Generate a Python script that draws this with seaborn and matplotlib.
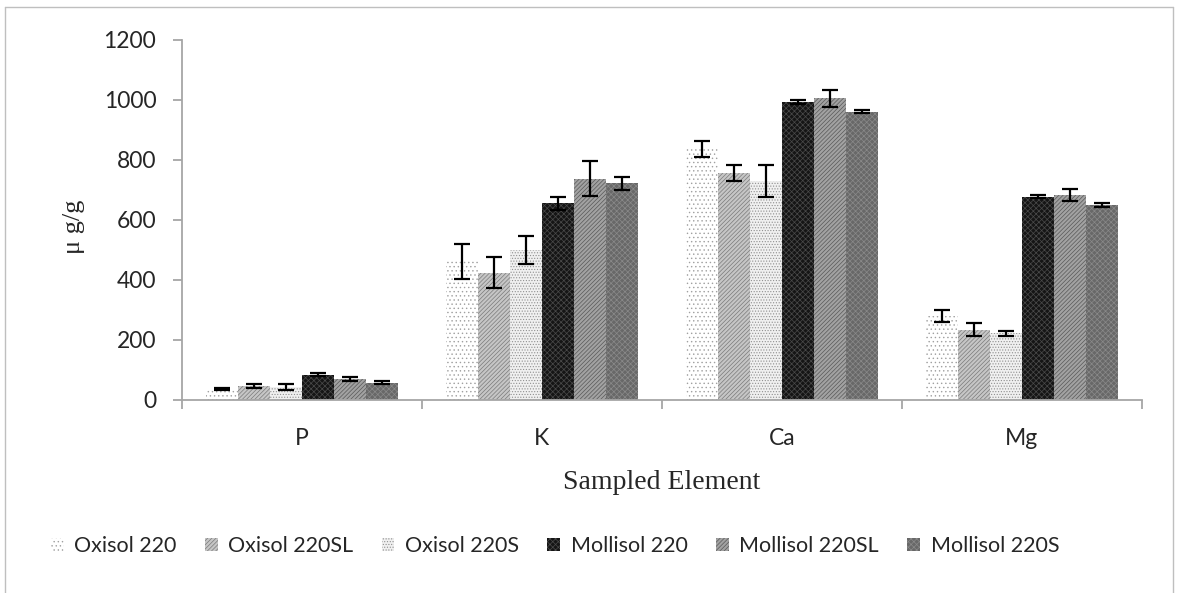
import matplotlib
matplotlib.use("Agg")
import matplotlib.pyplot as plt
import seaborn as sns
import pandas as pd
from matplotlib.patches import Rectangle
from matplotlib.lines import Line2D

# Element concentrations (µg/g) with standard errors
elements = ["P", "K", "Ca", "Mg"]
soils = ["Oxisol 220", "Oxisol 220SL", "Oxisol 220S",
         "Mollisol 220", "Mollisol 220SL", "Mollisol 220S"]

oxisol_220 = [38, 462, 837, 280]
oxisol_220sl = [46, 425, 757, 235]
oxisol_220s = [45, 500, 729, 222]
mollisol_220 = [85, 655, 994, 678]
mollisol_220sl = [70, 737, 1005, 683]
mollisol_220s = [58, 722, 961, 650]

oxisol_220_err = [3, 58, 27, 20]
oxisol_220sl_err = [7, 52, 26, 21]
oxisol_220s_err = [10, 45, 54, 8]
mollisol_220_err = [5, 22, 6, 6]
mollisol_220sl_err = [8, 58, 28, 20]
mollisol_220s_err = [5, 22, 6, 8]

series = [oxisol_220, oxisol_220sl, oxisol_220s,
          mollisol_220, mollisol_220sl, mollisol_220s]
errors = [oxisol_220_err, oxisol_220sl_err, oxisol_220s_err,
          mollisol_220_err, mollisol_220sl_err, mollisol_220s_err]

rows = []
for soil, vals, errs in zip(soils, series, errors):
    for el, v, e in zip(elements, vals, errs):
        rows.append({"element": el, "soil": soil, "value": v, "err": e})
df = pd.DataFrame(rows)

# fill styles: (face colour, hatch, hatch colour)
styles = [
    ("#ffffff", "....", "#a0a0a0"),
    ("#c6c6c6", "////////", "#7a7a7a"),
    ("#f0f0f0", "......", "#909090"),
    ("#151515", "xxxxxx", "#4a4a4a"),
    ("#a2a2a2", "////////", "#585858"),
    ("#686868", "xxxxxx", "#8a8a8a"),
]

sns.set_style("white")
plt.rcParams["font.family"] = ["Lato", "DejaVu Sans"]
plt.rcParams["hatch.linewidth"] = 0.5

fig = plt.figure(figsize=(11.79, 5.93), dpi=100)
ax = fig.add_axes([182 / 1179, 1 - 400 / 593, 960 / 1179, 360 / 593])

sns.barplot(data=df, x="element", y="value", hue="soil", order=elements,
            hue_order=soils, palette=[s[0] for s in styles], errorbar=None,
            width=0.8, gap=0, saturation=1, legend=False, ax=ax)

for cont, (fc, hatch, hc), soil in zip(ax.containers, styles, soils):
    sub = df[df["soil"] == soil].set_index("element").loc[elements]
    xs, ys = [], []
    for patch in cont.patches:
        patch.set_facecolor(fc)
        patch.set_hatch(hatch)
        patch.set_edgecolor(hc)
        patch.set_linewidth(0)
        xs.append(patch.get_x() + patch.get_width() / 2)
        ys.append(patch.get_height())
    ax.errorbar(xs, ys, yerr=sub["err"].values, fmt="none", ecolor="black",
                elinewidth=1.6, capsize=5.5, capthick=1.6, zorder=5)

ax.set_ylim(0, 1200)
ax.set_yticks(range(0, 1201, 200))
ax.set_xlim(-0.5, 3.5)

for side in ["top", "right"]:
    ax.spines[side].set_visible(False)
for side in ["left", "bottom"]:
    ax.spines[side].set_color("#a6a6a6")
    ax.spines[side].set_linewidth(1.3)

ax.tick_params(axis="y", which="major", direction="out", length=6.5, width=1.3,
               color="#a6a6a6", labelsize=16.5, pad=12, left=True)
ax.set_xticks([-0.5, 0.5, 1.5, 2.5, 3.5], minor=True)
ax.tick_params(axis="x", which="minor", direction="out", length=6.5, width=1.3,
               color="#a6a6a6", bottom=True)
ax.tick_params(axis="x", which="major", length=0, labelsize=16.5, pad=20)

ax.set_xlabel("Sampled Element", family="Liberation Serif", fontsize=20)
ax.xaxis.set_label_coords(0.5, -0.23)
ax.xaxis.label.set_verticalalignment("center")
ax.set_ylabel("μ g/g", family="Liberation Serif", fontsize=19)
ax.yaxis.set_label_coords(-0.112, 0.48)
ax.yaxis.label.set_verticalalignment("center")

# legend with small square swatches
handles = []
for (fc, hatch, hc) in styles:
    handles.append(Rectangle((0, 0), 1, 1, facecolor=fc, hatch=hatch,
                             edgecolor=hc, linewidth=0))
fig.legend(handles, soils, loc="center", ncol=6,
           bbox_to_anchor=(555 / 1179, 1 - 546 / 593), frameon=False,
           fontsize=15.5, handlelength=0.6, handleheight=0.6,
           handletextpad=0.5, columnspacing=1.3)

# thin frame around the chart area
frame_col = "#bfbfbf"
fig.add_artist(Line2D([5 / 1179, 5 / 1179], [0, 1 - 7 / 593],
                      transform=fig.transFigure, color=frame_col, lw=1))
fig.add_artist(Line2D([5 / 1179, 1173 / 1179], [1 - 7 / 593, 1 - 7 / 593],
                      transform=fig.transFigure, color=frame_col, lw=1))
fig.add_artist(Line2D([1173 / 1179, 1173 / 1179], [0, 1 - 7 / 593],
                      transform=fig.transFigure, color=frame_col, lw=1))

fig.savefig("out.png", dpi=100)
